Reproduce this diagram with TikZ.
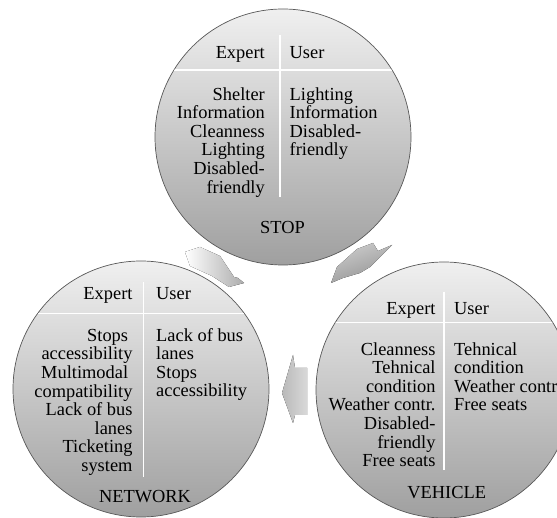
\documentclass[tikz,border=0pt]{standalone}
\usepackage{fontspec}
\setmainfont{Liberation Serif}
\begin{document}
\begin{tikzpicture}[x=1pt,y=-1pt,
  circ/.style={circle, minimum size=256pt, inner sep=0pt, draw=gray!70!black, line width=0.7pt,
    top color=gray!12, middle color=gray!36, bottom color=gray!75},
  divline/.style={white, line width=1.4pt},
  txt/.style={font=\fontsize{18.4}{18.6}\selectfont, inner sep=0pt, text=black},
  exphead/.style={txt, anchor=base east},
  usrhead/.style={txt, anchor=base west},
  expbody/.style={txt, align=right, anchor=north east},
  usrbody/.style={txt, align=left, anchor=north west},
  title/.style={txt, anchor=base},
  arr/.style={draw=none}
]
\useasboundingbox[fill=white] (0,0) rectangle (557,518);

% circles
\node[circ] (stop) at (283,137) {};
\node[circ] (net) at (141,389) {};
\node[circ] (veh) at (444,390) {};

% divider lines
\begin{scope}
  \clip (283,137) circle[radius=127.5pt];
  \draw[divline] (140,70) -- (430,70);
  \draw[divline] (280,35) -- (280,197);
\end{scope}
\begin{scope}
  \clip (141,389) circle[radius=127.5pt];
  \draw[divline] (0,313.3) -- (290,313.3);
  \draw[divline] (143.3,281.7) -- (143.3,476.7);
\end{scope}
\begin{scope}
  \clip (444,390) circle[radius=127.5pt];
  \draw[divline] (300,322.3) -- (600,322.3);
  \draw[divline] (444,291.7) -- (444,470);
\end{scope}

% arrows
\fill[arr, top color=gray!40, bottom color=gray!85, shading angle=20]
  (331,283) -- (337,267) -- (357,249) -- (373,243) -- (378,251) -- (392,245)
  -- (370,267) -- (360,273) -- (343,278) -- cycle;
\fill[arr, left color=gray!55, right color=gray!30]
  (282,393) -- (293,355) -- (295,368) -- (307,368) -- (307,415) -- (295,415)
  -- (293,423) -- cycle;
\fill[arr, left color=white, right color=gray!65]
  (185,252) -- (200,247) -- (220,256) -- (234,277) -- (238,278) -- (244,283)
  -- (229,287) -- (212,276) -- (190,266) -- cycle;

% STOP
\node[exphead] (sexh) at (265,59) {Expert};
\node[usrhead] (suh) at (289.5,59) {User};
\node[expbody] (sexb) at (265,86) {\rule{0pt}{14pt}Shelter\\Information\\Cleanness\\Lighting\\Disabled-\\friendly};
\node[usrbody] (sub) at (289.5,86) {\rule{0pt}{14pt}Lighting\\Information\\Disabled-\\friendly};
\node[title] (slab) at (282.5,234) {STOP};

% NETWORK
\node[exphead] (nexh) at (132.7,299.5) {Expert};
\node[usrhead] (nuh) at (156,299.5) {User};
\node[expbody] (nexb) at (132.7,327) {\rule{0pt}{14pt}Stops\kern4.4pt\\accessibility\\Multimodal\kern4.4pt\\compatibility\\Lack of bus\\lanes\\Ticketing\\system};
\node[usrbody] (nub) at (156,327) {\rule{0pt}{14pt}Lack of bus\\lanes\\Stops\\accessibility};
\node[title] (nlab) at (145,502.5) {NETWORK};

% VEHICLE
\node[exphead] (vexh) at (435.7,315) {Expert};
\node[usrhead] (vuh) at (454,315) {User};
\node[expbody] (vexb) at (435.7,341) {\rule{0pt}{14pt}Cleanness\\Tehnical\\condition\\Weather contr.\\Disabled-\\friendly\\Free seats};
\node[usrbody] (vub) at (454,341) {\rule{0pt}{14pt}Tehnical\\condition\\Weather contr\\Free seats};
\node[title] (vlab) at (446.7,498.5) {VEHICLE};
\end{tikzpicture}
\end{document}
